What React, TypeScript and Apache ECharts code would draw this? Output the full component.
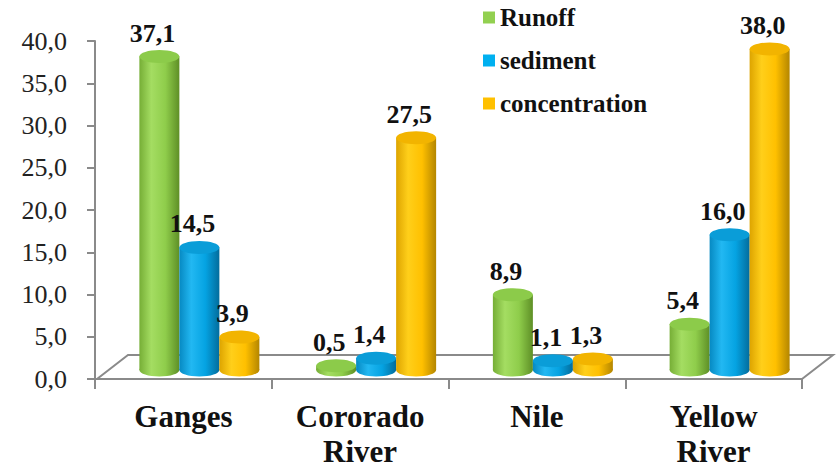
import React, { useEffect, useRef } from 'react';
import * as echarts from 'echarts';

const categories = ['Ganges', 'Cororado\nRiver', 'Nile', 'Yellow\nRiver'];
const seriesNames = ['Runoff', 'sediment', 'concentration'];
const runoff = [37.1, 0.5, 8.9, 5.4];
const sediment = [14.5, 1.4, 1.1, 16.0];
const concentration = [3.9, 27.5, 1.3, 38.0];
const yMin = 0;
const yMax = 40;
const yInterval = 5;

const seriesValues = [runoff, sediment, concentration];

const palettes = [
  { base: '#92D050', top: '#8CCB4A', stops: ['#76AE36', '#A4DD62', '#8FCD4B', '#5E8F26'] },
  { base: '#00B0F0', top: '#0A9DD8', stops: ['#0689C2', '#22B8F2', '#05A3E2', '#036C9C'] },
  { base: '#FFC000', top: '#F2B400', stops: ['#DDA400', '#FFCF1A', '#FFC000', '#B48600'] },
];

const SERIF = 'Liberation Serif, serif';
const fmt = (v: number) => v.toFixed(1).replace('.', ',');

export default function App() {
  const ref = useRef<HTMLDivElement>(null);
  useEffect(() => {
    document.body.style.margin = '0';
    const chart = echarts.init(ref.current!, null, { renderer: 'svg' });
    const bw = 40;
    const depthX = 16;
    const depthY = -9;
    const ry = 6.5;

    const series = seriesNames.map((name, k) => {
      const pal = palettes[k];
      return {
        name,
        type: 'custom',
        z: 3,
        itemStyle: { color: pal.base },
        encode: { x: 0, y: 1 },
        data: seriesValues[k].map((v, i) => [i, v]),
        renderItem: (params: any, api: any) => {
          const idx = api.value(0);
          const val = api.value(1);
          const base = api.coord([idx, 0]);
          const top = api.coord([idx, val]);
          const cx = base[0] + (k - 1) * bw + depthX;
          const yb = base[1] + depthY;
          const yt = top[1] + depthY;
          const rx = bw / 2;
          const grad = new echarts.graphic.LinearGradient(0, 0, 1, 0, [
            { offset: 0, color: pal.stops[0] },
            { offset: 0.3, color: pal.stops[1] },
            { offset: 0.65, color: pal.stops[2] },
            { offset: 1, color: pal.stops[3] },
          ]);
          return {
            type: 'group',
            children: [
              { type: 'ellipse', shape: { cx, cy: yb, rx, ry }, style: { fill: grad } },
              { type: 'rect', shape: { x: cx - rx, y: yt, width: bw, height: Math.max(0, yb - yt) }, style: { fill: grad } },
              { type: 'ellipse', shape: { cx, cy: yt, rx, ry }, style: { fill: pal.top } },
              {
                type: 'text',
                x: cx - 7,
                y: yt - ry - 4,
                style: {
                  text: fmt(val),
                  fill: '#111',
                  fontSize: 26,
                  fontWeight: 'bold',
                  fontFamily: SERIF,
                  align: 'center',
                  verticalAlign: 'bottom',
                  textAlign: 'center',
                  textVerticalAlign: 'bottom',
                },
              },
            ],
          };
        },
      };
    });

    chart.setOption({
      animation: false,
      backgroundColor: '#ffffff',
      textStyle: { fontFamily: SERIF },
      grid: { left: 95, right: 35, top: 41, bottom: 91, containLabel: false },
      legend: {
        orient: 'vertical',
        left: 483,
        top: 5,
        padding: 0,
        itemWidth: 12,
        itemHeight: 12,
        itemGap: 18,
        icon: 'rect',
        data: seriesNames,
        textStyle: { fontFamily: SERIF, fontSize: 25, fontWeight: 'bold', color: '#111', lineHeight: 25 },
      },
      xAxis: {
        type: 'category',
        data: categories,
        boundaryGap: true,
        axisLine: { show: true, lineStyle: { color: '#8a8a8a', width: 2 } },
        axisTick: { show: true, length: 10, lineStyle: { color: '#8a8a8a', width: 2 }, alignWithLabel: false },
        axisLabel: {
          interval: 0,
          margin: 20,
          fontFamily: SERIF,
          fontSize: 31,
          fontWeight: 'bold',
          lineHeight: 35,
          color: '#111',
        },
        splitLine: { show: false },
      },
      yAxis: {
        type: 'value',
        min: yMin,
        max: yMax,
        interval: yInterval,
        axisLine: { show: true, lineStyle: { color: '#8a8a8a', width: 2 } },
        axisTick: { show: true, length: 8, inside: false, lineStyle: { color: '#8a8a8a', width: 2 } },
        axisLabel: {
          margin: 28,
          fontFamily: SERIF,
          fontSize: 26,
          color: '#222',
          formatter: (v: number) => fmt(v),
        },
        splitLine: { show: false },
      },
      graphic: [
        {
          type: 'polyline',
          z: 1,
          shape: { points: [[97, 379], [128, 355], [833, 355], [802, 379]] },
          style: { stroke: '#8a8a8a', lineWidth: 2, fill: 'none' },
        },
      ],
      series,
    });
    return () => chart.dispose();
  }, []);
  return <div ref={ref} style={{ position: 'absolute', left: 0, top: 0, width: 837, height: 470 }} />;
}
